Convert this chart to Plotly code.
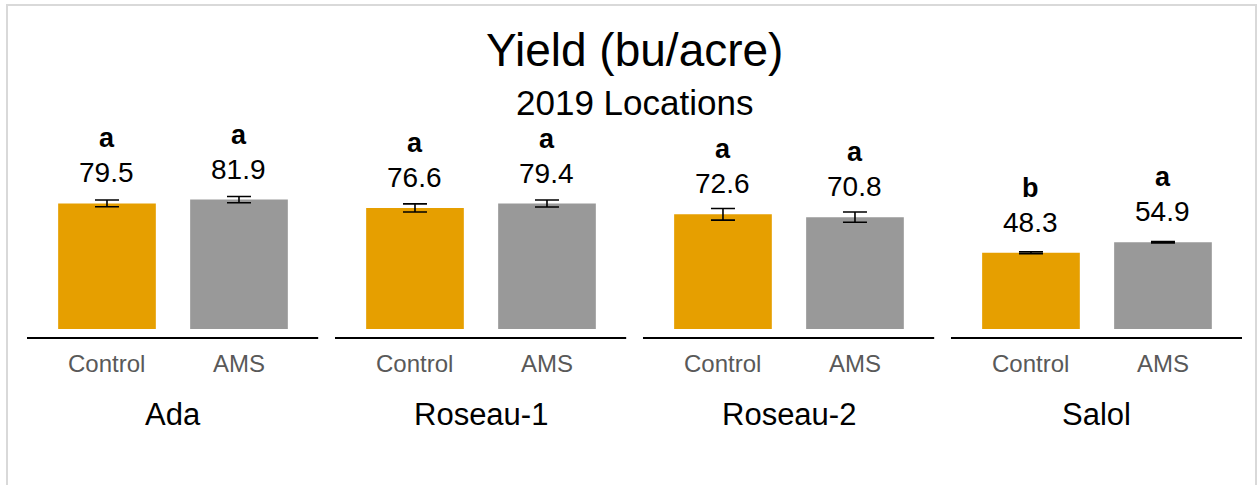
import plotly.graph_objects as go

# ---------------- data ----------------
locations = ["Ada", "Roseau-1", "Roseau-2", "Salol"]
treatments = ["Control", "AMS"]
control_yield = [79.5, 76.6, 72.6, 48.3]
ams_yield = [81.9, 79.4, 70.8, 54.9]
control_err = [2.1, 2.6, 3.7, 0.6]
ams_err = [2.0, 2.2, 3.2, 0.4]
control_letters = ["a", "a", "a", "b"]
ams_letters = ["a", "a", "a", "a"]

title_text = "Yield (bu/acre)"
subtitle_text = "2019 Locations"

# ---------------- layout constants ----------------
W, H = 1257, 485
PL, PR, PT, PB = 27, 1242, 130, 338  # plot area in px
GROUP_STEP = 2.3333
BAR_W = 0.74
X_RANGE = [-0.606, -0.606 + (PR - PL) / 132.0]
Y_RANGE = [-5.7, -5.7 + (PB - PT) / 1.58]

FONT = "Liberation Sans, Arial, sans-serif"
ORANGE = "#E69F00"
GRAY = "#999999"


def px2x(px):
    return (px - PL) / (PR - PL)


def px2y(py):
    return (PB - py) / (PB - PT)


series = [
    (treatments[0], control_yield, control_err, control_letters, ORANGE, 0),
    (treatments[1], ams_yield, ams_err, ams_letters, GRAY, 1),
]

fig = go.Figure()
annotations = []

for name, vals, errs, letters, color, j in series:
    xs = [g * GROUP_STEP + j for g in range(len(locations))]
    fig.add_trace(go.Bar(
        x=xs, y=vals, name=name, width=BAR_W,
        marker=dict(color=color, line=dict(width=0)),
        error_y=dict(type="data", array=errs, visible=True,
                     color="black", thickness=1.6, width=12),
        hoverinfo="y",
    ))
    for x, v, e, lt in zip(xs, vals, errs, letters):
        annotations.append(dict(
            x=x, y=v, xref="x", yref="y", text=f"{v:.1f}",
            showarrow=False, yanchor="bottom", yshift=13,
            font=dict(family=FONT, size=28, color="black")))
        annotations.append(dict(
            x=x, y=v, xref="x", yref="y", text=f"<b>{lt}</b>",
            showarrow=False, yanchor="bottom", yshift=48,
            font=dict(family=FONT, size=27, color="black")))
        annotations.append(dict(
            x=x, y=px2y(363), xref="x", yref="paper", text=name,
            showarrow=False, yanchor="middle",
            font=dict(family=FONT, size=24, color="#595959")))

shapes = []
for g, loc in enumerate(locations):
    x0 = g * GROUP_STEP
    annotations.append(dict(
        x=x0 + 0.5, y=px2y(414), xref="x", yref="paper", text=loc,
        showarrow=False, yanchor="middle",
        font=dict(family=FONT, size=31, color="black")))
    shapes.append(dict(
        type="line", xref="x", yref="paper",
        x0=x0 - 0.606, x1=x0 + 1.6, y0=0, y1=0,
        line=dict(color="black", width=2)))

# titles
annotations.append(dict(
    x=0.5, y=px2y(50), xref="paper", yref="paper", text=title_text,
    showarrow=False, yanchor="middle",
    font=dict(family=FONT, size=46, color="black")))
annotations.append(dict(
    x=0.5, y=px2y(102), xref="paper", yref="paper", text=subtitle_text,
    showarrow=False, yanchor="middle",
    font=dict(family=FONT, size=35, color="black")))

# outer frame
shapes.append(dict(
    type="rect", xref="paper", yref="paper",
    x0=px2x(7), x1=px2x(1256), y0=px2y(500), y1=px2y(5),
    line=dict(color="#D9D9D9", width=2), layer="below"))

fig.update_layout(
    width=W, height=H,
    margin=dict(l=PL, r=W - PR, t=PT, b=H - PB, pad=0),
    paper_bgcolor="white", plot_bgcolor="white",
    showlegend=False, barmode="overlay",
    xaxis=dict(range=X_RANGE, visible=False, fixedrange=True),
    yaxis=dict(range=Y_RANGE, visible=False, fixedrange=True),
    annotations=annotations, shapes=shapes,
)

fig.write_html(
    "out.html",
    config={"displayModeBar": False},
    post_script="document.body.style.margin='0';document.body.style.overflow='hidden';",
)
